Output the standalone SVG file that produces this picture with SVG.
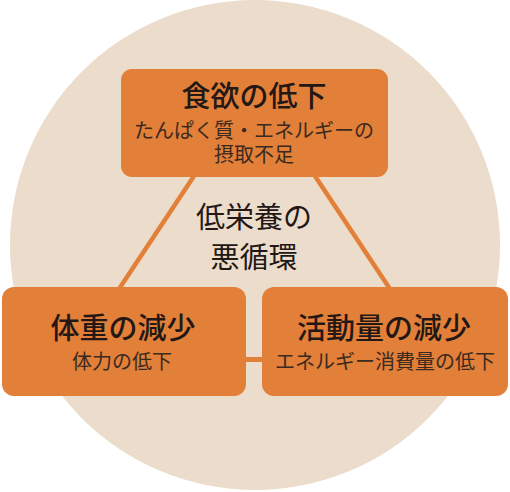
<svg xmlns="http://www.w3.org/2000/svg" width="510" height="492" viewBox="0 0 510 492">
<style>
.box{fill:#e27f38}
.con{stroke:#e27f38;stroke-width:4.5;fill:none}
text{font-family:"Noto Sans CJK JP","Noto Sans CJK SC",sans-serif;text-anchor:middle;fill:#231815}
.t{font-size:29px;font-weight:500}
.s{font-size:20px;font-weight:400;fill:#3a2a20}
.c{font-size:29px;font-weight:400}
</style>
<rect width="510" height="492" fill="#ffffff"/>
<circle cx="255" cy="245" r="245" fill="#ecdccb"/>
<g id="connectors">
<line class="con" x1="194" y1="176" x2="119" y2="289"/>
<line class="con" x1="315" y1="176" x2="390" y2="289"/>
<line x1="245" y1="359.5" x2="264" y2="359.5" stroke="#e27f38" stroke-width="5"/>
</g>
<g id="center">
<text class="c" x="254" y="228">低栄養の</text>
<text class="c" x="254" y="268">悪循環</text>
</g>
<g id="top">
<rect class="box" x="121" y="69" width="267" height="108" rx="11"/>
<text class="t" x="254" y="107">食欲の低下</text>
<text class="s" x="254" y="138">たんぱく質・エネルギーの</text>
<text class="s" x="254" y="162">摂取不足</text>
</g>
<g id="left">
<rect class="box" x="2" y="287" width="244" height="109" rx="12"/>
<text class="t" x="123" y="339">体重の減少</text>
<text class="s" x="122" y="369">体力の低下</text>
</g>
<g id="right">
<rect class="box" x="262" y="287" width="246" height="109" rx="12"/>
<text class="t" x="384" y="339">活動量の減少</text>
<text class="s" x="385" y="369">エネルギー消費量の低下</text>
</g>
</svg>
